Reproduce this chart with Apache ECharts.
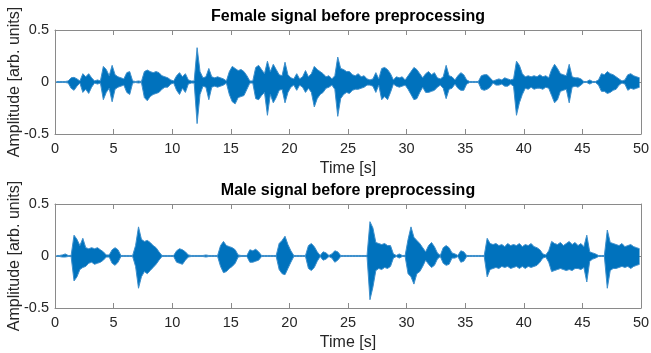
<!DOCTYPE html>
<html>
<head>
<meta charset="utf-8">
<script src="https://cdn.jsdelivr.net/npm/echarts@6/dist/echarts.min.js"></script>
<style>
  html, body { margin: 0; padding: 0; background: #ffffff; }
  #chart { width: 651px; height: 353px; }
</style>
</head>
<body>
<div id="chart"></div>
<script>
// Waveform envelopes: peak (high) and trough (low) amplitude per 0.25 s window.
const BIN_SECONDS = 0.25;
const timeTicks = [0, 5, 10, 15, 20, 25, 30, 35, 40, 45, 50];
const ampTicks = [-0.5, 0, 0.5];

const femaleHigh = [
  0.005, 0.005, 0.005, 0.005, 0.01, 0.04, 0.045, 0.03, 0.01, 0.08,
  0.05, 0.08, 0.04, 0.01, 0.02, 0.01, 0.15, 0.12, 0.06, 0.16,
  0.07, 0.05, 0.04, 0.03, 0.09, 0.1, 0.01, 0.005, 0.01, 0.005,
  0.1, 0.115, 0.1, 0.09, 0.1, 0.09, 0.06, 0.05, 0.04, 0.02,
  0.01, 0.06, 0.09, 0.05, 0.08, 0.02, 0.01, 0.01, 0.33, 0.1,
  0.04, 0.05, 0.13, 0.05, 0.04, 0.05, 0.04, 0.03, 0.01, 0.1,
  0.15, 0.13, 0.11, 0.12, 0.1, 0.06, 0.01, 0.01, 0.14, 0.16,
  0.12, 0.08, 0.2, 0.1, 0.17, 0.12, 0.07, 0.06, 0.19, 0.07,
  0.04, 0.03, 0.08, 0.03, 0.05, 0.11, 0.05, 0.08, 0.15, 0.12,
  0.1, 0.08, 0.05, 0.06, 0.03, 0.06, 0.24, 0.13, 0.12, 0.1,
  0.1, 0.07, 0.06, 0.08, 0.05, 0.06, 0.03, 0.02, 0.03, 0.09,
  0.03, 0.13, 0.14, 0.12, 0.08, 0.02, 0.05, 0.04, 0.05, 0.02,
  0.06, 0.1, 0.14, 0.12, 0.08, 0.04, 0.08, 0.1, 0.07, 0.09,
  0.04, 0.03, 0.05, 0.16, 0.06, 0.05, 0.02, 0.06, 0.09, 0.07,
  0.02, 0.005, 0.005, 0.005, 0.005, 0.06, 0.07, 0.07, 0.04, 0.01,
  0.02, 0.03, 0.02, 0.04, 0.03, 0.02, 0.03, 0.2, 0.16, 0.08,
  0.05, 0.06, 0.05, 0.06, 0.05, 0.07, 0.05, 0.06, 0.04, 0.12,
  0.17, 0.13, 0.08, 0.07, 0.06, 0.17, 0.05, 0.04, 0.04, 0.03,
  0.005, 0.005, 0.02, 0.005, 0.005, 0.02, 0.08, 0.07, 0.1, 0.08,
  0.07, 0.05, 0.03, 0.01, 0.02, 0.07, 0.08, 0.06, 0.05, 0.04
];
const femaleLow = [
  -0.005, -0.005, -0.005, -0.005, -0.01, -0.06, -0.08, -0.04, -0.01, -0.1,
  -0.07, -0.11, -0.05, -0.01, -0.02, -0.01, -0.17, -0.1, -0.06, -0.19,
  -0.07, -0.05, -0.04, -0.03, -0.1, -0.12, -0.01, -0.005, -0.01, -0.005,
  -0.15, -0.18, -0.14, -0.12, -0.11, -0.1, -0.07, -0.05, -0.05, -0.02,
  -0.01, -0.08, -0.12, -0.06, -0.1, -0.02, -0.01, -0.01, -0.4, -0.12,
  -0.04, -0.05, -0.17, -0.05, -0.04, -0.05, -0.04, -0.03, -0.01, -0.12,
  -0.19, -0.21, -0.15, -0.14, -0.13, -0.07, -0.01, -0.01, -0.16, -0.17,
  -0.13, -0.1, -0.32, -0.12, -0.2, -0.15, -0.08, -0.07, -0.2, -0.1,
  -0.05, -0.03, -0.08, -0.03, -0.05, -0.1, -0.06, -0.1, -0.24, -0.16,
  -0.12, -0.1, -0.06, -0.05, -0.03, -0.07, -0.33, -0.16, -0.12, -0.1,
  -0.11, -0.08, -0.07, -0.07, -0.06, -0.05, -0.03, -0.03, -0.04, -0.1,
  -0.03, -0.17, -0.14, -0.17, -0.1, -0.02, -0.04, -0.05, -0.04, -0.03,
  -0.07, -0.12, -0.17, -0.16, -0.1, -0.05, -0.1, -0.1, -0.09, -0.08,
  -0.05, -0.03, -0.06, -0.16, -0.07, -0.06, -0.02, -0.06, -0.08, -0.08,
  -0.02, -0.005, -0.005, -0.005, -0.005, -0.07, -0.08, -0.07, -0.05, -0.01,
  -0.03, -0.03, -0.02, -0.04, -0.04, -0.02, -0.04, -0.32, -0.2, -0.12,
  -0.06, -0.07, -0.05, -0.07, -0.06, -0.06, -0.07, -0.05, -0.06, -0.13,
  -0.2, -0.17, -0.09, -0.08, -0.07, -0.2, -0.05, -0.04, -0.05, -0.03,
  -0.005, -0.005, -0.02, -0.005, -0.005, -0.03, -0.09, -0.09, -0.11, -0.1,
  -0.08, -0.07, -0.03, -0.01, -0.02, -0.08, -0.06, -0.07, -0.06, -0.05
];

const maleHigh = [
  0.005, 0.005, 0.01, 0.02, 0.005, 0.005, 0.2, 0.16, 0.1, 0.17,
  0.08, 0.07, 0.08, 0.07, 0.08, 0.06, 0.04, 0.01, 0.01, 0.06,
  0.08, 0.06, 0.005, 0.005, 0.005, 0.005, 0.005, 0.1, 0.28, 0.16,
  0.14, 0.15, 0.13, 0.1, 0.08, 0.04, 0.005, 0.005, 0.005, 0.005,
  0.005, 0.05, 0.07, 0.06, 0.04, 0.01, 0.005, 0.005, 0.005, 0.005,
  0.005, 0.01, 0.005, 0.005, 0.005, 0.005, 0.1, 0.14, 0.1, 0.09,
  0.08, 0.06, 0.01, 0.005, 0.005, 0.005, 0.06, 0.05, 0.065, 0.04,
  0.005, 0.005, 0.005, 0.005, 0.005, 0.005, 0.12, 0.15, 0.19, 0.11,
  0.05, 0.005, 0.005, 0.005, 0.005, 0.005, 0.1, 0.12, 0.09, 0.04,
  0.005, 0.04, 0.03, 0.005, 0.02, 0.05, 0.04, 0.005, 0.005, 0.005,
  0.005, 0.005, 0.005, 0.005, 0.005, 0.005, 0.005, 0.33, 0.27, 0.13,
  0.12, 0.11, 0.12, 0.1, 0.1, 0.02, 0.005, 0.02, 0.005, 0.005,
  0.16, 0.28, 0.18, 0.15, 0.12, 0.08, 0.04, 0.1, 0.13, 0.09,
  0.03, 0.005, 0.08, 0.1, 0.08, 0.03, 0.02, 0.005, 0.05, 0.04,
  0.005, 0.005, 0.005, 0.005, 0.005, 0.005, 0.005, 0.17, 0.12, 0.11,
  0.12, 0.1, 0.11, 0.09, 0.12, 0.1, 0.11, 0.1, 0.12, 0.09,
  0.11, 0.1, 0.12, 0.09, 0.08, 0.06, 0.02, 0.01, 0.05, 0.14,
  0.12, 0.11, 0.13, 0.1, 0.12, 0.14, 0.11, 0.13, 0.1, 0.12,
  0.09, 0.2, 0.04, 0.03, 0.02, 0.005, 0.005, 0.005, 0.25, 0.13,
  0.12, 0.11, 0.1, 0.12, 0.09, 0.1, 0.11, 0.09, 0.08, 0.07
];
const maleLow = [
  -0.005, -0.005, -0.01, -0.01, -0.005, -0.005, -0.24, -0.2, -0.13, -0.11,
  -0.1, -0.07, -0.06, -0.08, -0.07, -0.06, -0.04, -0.01, -0.01, -0.07,
  -0.09, -0.06, -0.005, -0.005, -0.005, -0.005, -0.005, -0.1, -0.31, -0.2,
  -0.15, -0.17, -0.14, -0.11, -0.08, -0.04, -0.005, -0.005, -0.005, -0.005,
  -0.005, -0.06, -0.07, -0.08, -0.04, -0.01, -0.005, -0.005, -0.005, -0.005,
  -0.005, -0.01, -0.005, -0.005, -0.005, -0.005, -0.1, -0.16, -0.15, -0.12,
  -0.1, -0.07, -0.01, -0.005, -0.005, -0.005, -0.06, -0.06, -0.05, -0.04,
  -0.005, -0.005, -0.005, -0.005, -0.005, -0.005, -0.13, -0.17, -0.18, -0.12,
  -0.06, -0.005, -0.005, -0.005, -0.005, -0.005, -0.12, -0.14, -0.11, -0.05,
  -0.005, -0.04, -0.03, -0.005, -0.02, -0.06, -0.04, -0.005, -0.005, -0.005,
  -0.005, -0.005, -0.005, -0.005, -0.005, -0.005, -0.005, -0.42, -0.3, -0.14,
  -0.12, -0.13, -0.11, -0.12, -0.1, -0.02, -0.005, -0.02, -0.005, -0.005,
  -0.17, -0.2, -0.27, -0.17, -0.15, -0.1, -0.04, -0.08, -0.11, -0.09,
  -0.03, -0.005, -0.07, -0.09, -0.08, -0.02, -0.02, -0.005, -0.06, -0.05,
  -0.005, -0.005, -0.005, -0.005, -0.005, -0.005, -0.005, -0.2, -0.13, -0.12,
  -0.11, -0.12, -0.1, -0.11, -0.1, -0.12, -0.11, -0.1, -0.12, -0.1,
  -0.12, -0.1, -0.11, -0.1, -0.09, -0.06, -0.02, -0.01, -0.06, -0.15,
  -0.14, -0.13, -0.12, -0.13, -0.14, -0.13, -0.14, -0.12, -0.12, -0.13,
  -0.11, -0.25, -0.05, -0.03, -0.02, -0.005, -0.005, -0.005, -0.31, -0.14,
  -0.12, -0.12, -0.11, -0.1, -0.11, -0.1, -0.12, -0.1, -0.09, -0.08
];

const WAVE_COLOR = '#0072BD';
const EDGE_COLOR = '#3d8fcc';
const TEXT_COLOR = '#262626';
const BOX_COLOR = '#8a8a8a';
const FONT = 'Liberation Sans, Arial, Helvetica, sans-serif';

// Each window's extreme is placed at the window centre.
function toPoints(values) {
  return values.map((v, i) => [(i + 0.5) * BIN_SECONDS, v]);
}

function envelopeSeries(name, values, axisIndex) {
  return {
    name: name,
    type: 'line',
    xAxisIndex: axisIndex,
    yAxisIndex: axisIndex,
    data: toPoints(values),
    showSymbol: false,
    symbol: 'none',
    smooth: false,
    lineStyle: { color: EDGE_COLOR, width: 1 },
    areaStyle: { color: WAVE_COLOR, opacity: 1, origin: 0 },
    silent: true,
    clip: true
  };
}

const tickStep = timeTicks[1] - timeTicks[0];
const ampStep = ampTicks[1] - ampTicks[0];

function timeAxes(gridIndex) {
  const common = {
    type: 'value',
    gridIndex: gridIndex,
    min: timeTicks[0],
    max: timeTicks[timeTicks.length - 1],
    interval: tickStep,
    splitLine: { show: false },
    axisLine: { show: true, onZero: false, lineStyle: { color: BOX_COLOR, width: 1 } },
    axisTick: { show: true, inside: true, length: 5, lineStyle: { color: BOX_COLOR } }
  };
  return [
    Object.assign({}, common, {
      position: 'bottom',
      name: 'Time [s]',
      nameLocation: 'middle',
      nameGap: 27,
      nameMoveOverlap: false,
      nameTextStyle: { color: TEXT_COLOR, fontSize: 16, fontFamily: FONT },
      axisLabel: { color: TEXT_COLOR, fontSize: 14.5, fontFamily: FONT, margin: 7 }
    }),
    Object.assign({}, common, {
      position: 'top',
      axisLabel: { show: false }
    })
  ];
}

function ampAxes(gridIndex) {
  const common = {
    type: 'value',
    gridIndex: gridIndex,
    min: ampTicks[0],
    max: ampTicks[ampTicks.length - 1],
    interval: ampStep,
    splitLine: { show: false },
    axisLine: { show: true, onZero: false, lineStyle: { color: BOX_COLOR, width: 1 } },
    axisTick: { show: true, inside: true, length: 5, lineStyle: { color: BOX_COLOR } }
  };
  return [
    Object.assign({}, common, {
      position: 'left',
      name: 'Amplitude [arb. units]',
      nameLocation: 'middle',
      nameGap: 32,
      nameMoveOverlap: false,
      nameTextStyle: { color: TEXT_COLOR, fontSize: 16, fontFamily: FONT },
      axisLabel: { color: TEXT_COLOR, fontSize: 14.5, fontFamily: FONT, margin: 6 }
    }),
    Object.assign({}, common, {
      position: 'right',
      axisLabel: { show: false }
    })
  ];
}

const chart = echarts.init(document.getElementById('chart'), null, { renderer: 'canvas' });

chart.setOption({
  animation: false,
  backgroundColor: '#ffffff',
  graphic: [
    {
      type: 'text',
      style: {
        text: 'Female signal before preprocessing',
        x: 348, y: 17,
        align: 'center', verticalAlign: 'middle',
        fill: '#000000', font: 'bold 16px ' + FONT
      }
    },
    {
      type: 'text',
      style: {
        text: 'Male signal before preprocessing',
        x: 348, y: 191,
        align: 'center', verticalAlign: 'middle',
        fill: '#000000', font: 'bold 16px ' + FONT
      }
    }
  ],
  grid: [
    { left: 55, top: 30, width: 586, height: 104, containLabel: false, outerBoundsMode: 'none' },
    { left: 55, top: 204, width: 586, height: 104, containLabel: false, outerBoundsMode: 'none' }
  ],
  xAxis: timeAxes(0).concat(timeAxes(1)),
  yAxis: ampAxes(0).concat(ampAxes(1)),
  series: [
    envelopeSeries('Female peak', femaleHigh, 0),
    envelopeSeries('Female trough', femaleLow, 0),
    envelopeSeries('Male peak', maleHigh, 2),
    envelopeSeries('Male trough', maleLow, 2)
  ]
});
</script>
</body>
</html>
